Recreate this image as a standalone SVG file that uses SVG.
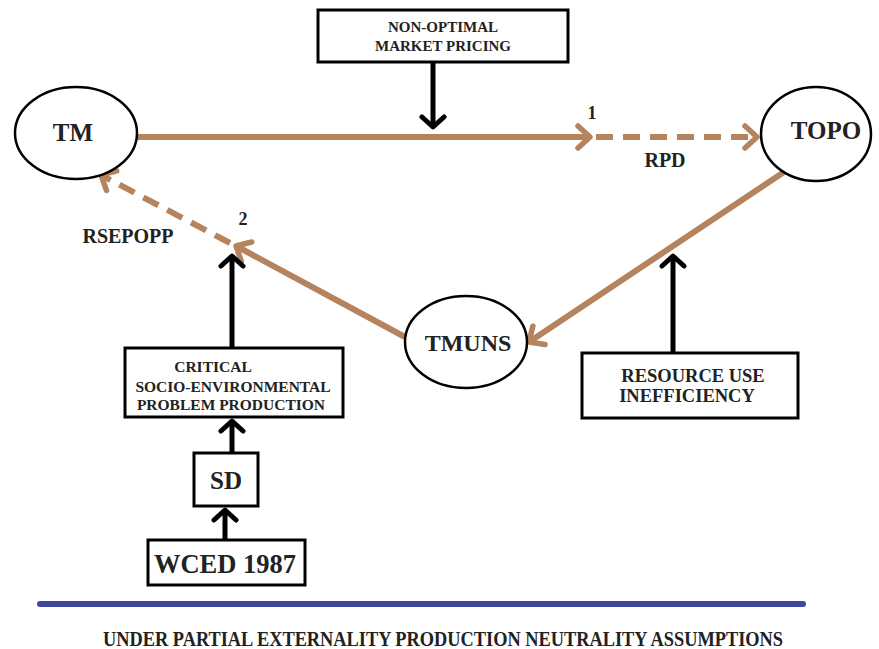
<svg xmlns="http://www.w3.org/2000/svg" width="879" height="649" viewBox="0 0 879 649">
<style>
  .box { fill: #fff; stroke: #000; stroke-width: 3; }
  .ell { fill: #fff; stroke: #000; stroke-width: 2.5; }
  .t { font-family: 'Liberation Serif', 'Times New Roman', 'DejaVu Serif', serif; font-weight: 700; fill: #222; text-anchor: middle; }
  .or { fill: none; stroke: #b5845e; stroke-width: 6; }
  .dash { stroke-dasharray: 17 10; }
  .bk { fill: none; stroke: #000; stroke-width: 5; }
</style>
<defs>
  <marker id="ao" markerUnits="userSpaceOnUse" viewBox="-18 -15 22 30" markerWidth="22" markerHeight="30" refX="0" refY="0" orient="auto">
    <path d="M -12 -11 L 0 0 L -12 11" fill="none" stroke="#b5845e" stroke-width="5.5" stroke-linecap="round" stroke-linejoin="round"/>
  </marker>
  <marker id="ab" markerUnits="userSpaceOnUse" viewBox="-16 -14 20 28" markerWidth="20" markerHeight="28" refX="0" refY="0" orient="auto">
    <path d="M -10 -11 L 0 0 L -10 11" fill="none" stroke="#000" stroke-width="5" stroke-linecap="round" stroke-linejoin="round"/>
  </marker>
</defs>
<rect width="879" height="649" fill="#fff"/>

<g id="connectors">
  <line class="or" x1="137" y1="137" x2="590" y2="137" marker-end="url(#ao)"/>
  <line class="or dash" x1="596" y1="137" x2="757" y2="137" marker-end="url(#ao)"/>
  <line class="or" x1="790" y1="168" x2="529" y2="342" marker-end="url(#ao)"/>
  <line class="or" x1="405" y1="337" x2="236" y2="246" marker-end="url(#ao)"/>
  <line class="or dash" x1="230" y1="243" x2="101" y2="175" marker-end="url(#ao)"/>
  <line class="bk" x1="433" y1="62" x2="433" y2="127" marker-end="url(#ab)"/>
  <line class="bk" x1="232" y1="348" x2="232" y2="256" marker-end="url(#ab)"/>
  <line class="bk" x1="673" y1="353" x2="673" y2="256" marker-end="url(#ab)"/>
  <line class="bk" x1="232" y1="453" x2="232" y2="421" marker-end="url(#ab)"/>
  <line class="bk" x1="225" y1="540" x2="225" y2="510" marker-end="url(#ab)"/>
  <text class="t" x="592" y="119" font-size="18">1</text>
  <text class="t" x="665" y="167" font-size="20">RPD</text>
  <text class="t" x="243" y="225" font-size="18">2</text>
  <text class="t" x="128" y="243" font-size="20">RSEPOPP</text>
</g>

<g id="non-optimal">
  <rect class="box" x="318" y="10" width="250" height="52"/>
  <text class="t" x="443" y="32" font-size="15">NON-OPTIMAL</text>
  <text class="t" x="443" y="51" font-size="15">MARKET PRICING</text>
</g>

<g id="tm">
  <ellipse class="ell" cx="76" cy="133" rx="61" ry="46"/>
  <text class="t" x="73" y="141" font-size="25">TM</text>
</g>

<g id="topo">
  <ellipse class="ell" cx="816" cy="134" rx="55" ry="47"/>
  <text class="t" x="826" y="139" font-size="25">TOPO</text>
</g>

<g id="tmuns">
  <ellipse class="ell" cx="466" cy="342" rx="61" ry="46"/>
  <text class="t" x="468" y="351" font-size="24">TMUNS</text>
</g>

<g id="critical">
  <rect class="box" x="125" y="348" width="218" height="69"/>
  <text class="t" x="213" y="372" font-size="15.5">CRITICAL</text>
  <text class="t" x="233" y="392" font-size="15.5">SOCIO-ENVIRONMENTAL</text>
  <text class="t" x="231" y="410" font-size="15.5">PROBLEM PRODUCTION</text>
</g>

<g id="resource">
  <rect class="box" x="582" y="353" width="216" height="65"/>
  <text class="t" x="693" y="382" font-size="18.5">RESOURCE USE</text>
  <text class="t" x="687" y="402" font-size="18.5">INEFFICIENCY</text>
</g>

<g id="sd">
  <rect class="box" x="194" y="453" width="64" height="53"/>
  <text class="t" x="226" y="489" font-size="25">SD</text>
</g>

<g id="wced">
  <rect class="box" x="148" y="540" width="157" height="45"/>
  <text class="t" x="225" y="573" font-size="26.5">WCED 1987</text>
</g>

<g id="footer">
  <line x1="40" y1="604" x2="803" y2="604" stroke="#3d4a9c" stroke-width="6" stroke-linecap="round"/>
  <text class="t" x="443" y="646" font-size="20" textLength="680" lengthAdjust="spacingAndGlyphs">UNDER PARTIAL EXTERNALITY PRODUCTION NEUTRALITY ASSUMPTIONS</text>
</g>
</svg>
